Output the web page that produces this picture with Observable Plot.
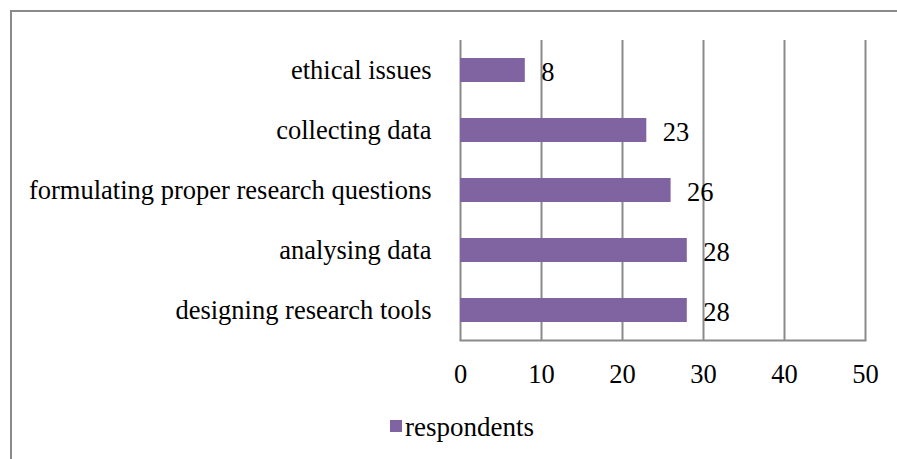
<!DOCTYPE html>
<html>
<head>
<meta charset="utf-8">
<script src="https://cdn.jsdelivr.net/npm/d3@7"></script>
<script src="https://cdn.jsdelivr.net/npm/@observablehq/plot@0.6"></script>
<style>
  html, body { margin: 0; padding: 0; background: #fff; overflow: hidden; }
  #wrap { position: relative; width: 897px; height: 459px; }
  #border { position: absolute; left: 10px; top: 10px; width: 900px; height: 460px;
            border: 2px solid #8a8a8a; box-sizing: border-box; }
  #chart { position: absolute; left: 0; top: 0; }
  #legend { position: absolute; left: 0; top: 400px; width: 897px; height: 59px;
            font-family: "Liberation Serif", "Times New Roman", serif; font-size: 27px; }
  #legend .item { position: absolute; left: 390px; top: 12px; display: flex; align-items: center; line-height: 30px; }
  #legend .sw { width: 12px; height: 12px; background: #8064A2; margin-right: 3px; margin-top: -2px; }
</style>
</head>
<body>
<div id="wrap">
  <div id="border"></div>
  <div id="chart"></div>
  <div id="legend"></div>
</div>
<script>
const categories = ["ethical issues", "collecting data", "formulating proper research questions", "analysing data", "designing research tools"];
const values = [8, 23, 26, 28, 28];
const seriesName = "respondents";
const xTicks = [0, 10, 20, 30, 40, 50];

const data = categories.map((c, i) => ({category: c, value: values[i]}));

const chart = Plot.plot({
  width: 897,
  height: 400,
  marginLeft: 460,
  marginRight: 32,
  marginTop: 40,
  marginBottom: 60,
  style: {fontFamily: "'Liberation Serif', 'Times New Roman', serif", fontSize: "26.5px", color: "#000", background: "transparent"},
  x: {domain: [0, 50], ticks: xTicks, tickSize: 0, tickPadding: 24, label: null},
  y: {domain: categories, paddingInner: 0.6, paddingOuter: 0.3, tickSize: 0, tickPadding: 29, label: null},
  marks: [
    Plot.ruleX(xTicks, {stroke: "#8a8a8a", strokeWidth: 2, strokeOpacity: 1}),
    Plot.frame({anchor: "bottom", stroke: "#8a8a8a", strokeWidth: 2}),
    Plot.barX(data, {x: "value", y: "category", fill: "#8064A2"}),
    Plot.text(data, {x: "value", y: "category", text: d => String(d.value), textAnchor: "start", dx: 16, dy: 2, fontSize: 26.5, fill: "#000"})
  ]
});
document.getElementById("chart").appendChild(chart);

const legend = document.getElementById("legend");
const item = document.createElement("div");
item.className = "item";
const sw = document.createElement("div");
sw.className = "sw";
const lab = document.createElement("span");
lab.textContent = seriesName;
item.appendChild(sw);
item.appendChild(lab);
legend.appendChild(item);
</script>
</body>
</html>
